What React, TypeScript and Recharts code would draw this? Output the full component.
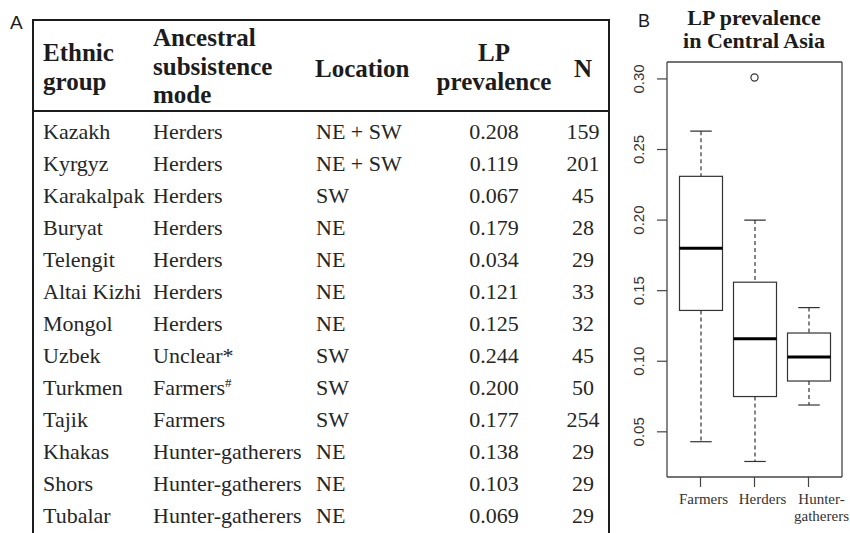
import React from "react";
import {
  ComposedChart,
  Bar,
  Scatter,
  XAxis,
  YAxis,
  CartesianGrid,
} from "recharts";

// --- panel A: table ---
const ethnicGroups = [
  "Kazakh", "Kyrgyz", "Karakalpak", "Buryat", "Telengit", "Altai Kizhi", "Mongol",
  "Uzbek", "Turkmen", "Tajik", "Khakas", "Shors", "Tubalar",
];
const subsistenceModes = [
  "Herders", "Herders", "Herders", "Herders", "Herders", "Herders", "Herders",
  "Unclear*", "Farmers", "Farmers", "Hunter-gatherers", "Hunter-gatherers", "Hunter-gatherers",
];
const subsistenceNotes = ["", "", "", "", "", "", "", "", "#", "", "", "", ""];
const locations = [
  "NE + SW", "NE + SW", "SW", "NE", "NE", "NE", "NE", "SW", "SW", "SW", "NE", "NE", "NE",
];
const lpPrevalence = [
  "0.208", "0.119", "0.067", "0.179", "0.034", "0.121", "0.125",
  "0.244", "0.200", "0.177", "0.138", "0.103", "0.069",
];
const sampleSizes = [159, 201, 45, 28, 29, 33, 32, 45, 50, 254, 29, 29, 29];

// --- panel B: boxplot ---
const groups = ["Farmers", "Herders", "Hunter-gatherers"];
const whiskerLow = [0.043, 0.029, 0.069];
const quartile1 = [0.136, 0.075, 0.086];
const medians = [0.18, 0.116, 0.103];
const quartile3 = [0.231, 0.156, 0.12];
const whiskerHigh = [0.263, 0.2, 0.138];
const outliers = [null, 0.301, null];
const yTicks = [0.05, 0.1, 0.15, 0.2, 0.25, 0.3];

const boxData = groups.map((g, i) => ({
  group: g,
  range: [whiskerLow[i], whiskerHigh[i]],
  q1: quartile1[i],
  median: medians[i],
  q3: quartile3[i],
  outlier: outliers[i],
}));

const SERIF = "'Liberation Serif', 'Times New Roman', serif";
const SANS = "'Liberation Sans', Arial, sans-serif";
const INK = "#1c1c1c";

const BoxShape = (props: any) => {
  const { x, y, width, height, payload } = props;
  const [lo, hi] = payload.range;
  const toY = (v: number) => y + ((hi - v) / (hi - lo)) * height;
  const cx = x + width / 2;
  const cap = width / 4;
  const yQ1 = toY(payload.q1);
  const yQ3 = toY(payload.q3);
  const yMed = toY(payload.median);
  const yLo = toY(lo);
  const yHi = toY(hi);
  return (
    <g stroke="#333" strokeWidth={1.2}>
      <line x1={cx} x2={cx} y1={yHi} y2={yQ3} strokeDasharray="4 3" />
      <line x1={cx} x2={cx} y1={yQ1} y2={yLo} strokeDasharray="4 3" />
      <line x1={cx - cap} x2={cx + cap} y1={yHi} y2={yHi} />
      <line x1={cx - cap} x2={cx + cap} y1={yLo} y2={yLo} />
      <rect x={x} y={yQ3} width={width} height={yQ1 - yQ3} fill="#fff" />
      <line x1={x} x2={x + width} y1={yMed} y2={yMed} stroke="#000" strokeWidth={3} />
    </g>
  );
};

const OutlierDot = (props: any) => {
  const { cx, cy, payload } = props;
  if (payload == null || payload.outlier == null) return <g />;
  return <circle cx={cx} cy={cy} r={3.6} fill="none" stroke="#333" strokeWidth={1.2} />;
};

const YTick = ({ x, y, payload }: any) => (
  <text
    transform={`translate(${x - 11},${y}) rotate(-90)`}
    textAnchor="middle"
    fontFamily={SANS}
    fontSize={15}
    fill="#333"
  >
    {Number(payload.value).toFixed(2)}
  </text>
);

// R placed the group names a little to the right of each tick
const labelShift = [3, 8, 13];

const XTick = ({ x, y, payload, index }: any) => {
  const label: string = payload.value;
  const cut = label.indexOf("-");
  const lines = cut >= 0 ? [label.slice(0, cut + 1), label.slice(cut + 1)] : [label];
  const lx = x + (labelShift[index] ?? 0);
  return (
    <text x={lx} y={y} textAnchor="middle" fontFamily={SERIF} fontSize={15} fill="#333">
      {lines.map((l, i) => (
        <tspan key={i} x={lx} dy={i === 0 ? 15 : 17}>
          {l}
        </tspan>
      ))}
    </text>
  );
};

const TablePanel = () => {
  const rowBase = (i: number) => 139 + i * 32;
  return (
    <svg width={620} height={533} style={{ position: "absolute", left: 0, top: 0 }}>
      <text x={10} y={29} fontFamily={SANS} fontSize={19} fill={INK}>A</text>
      <g stroke={INK} strokeWidth={2}>
        <line x1={33} x2={609} y1={20} y2={20} />
        <line x1={33} x2={33} y1={19} y2={533} />
        <line x1={609} x2={609} y1={19} y2={533} />
        <line x1={33} x2={609} y1={111} y2={111} />
      </g>
      <g fontFamily={SERIF} fontSize={25} fontWeight="bold" fill={INK}>
        <text x={43} y={61}>Ethnic</text>
        <text x={43} y={90}>group</text>
        <text x={153} y={46}>Ancestral</text>
        <text x={153} y={75}>subsistence</text>
        <text x={153} y={103}>mode</text>
        <text x={315} y={77}>Location</text>
        <text x={494} y={61} textAnchor="middle">LP</text>
        <text x={494} y={90} textAnchor="middle">prevalence</text>
        <text x={583} y={77} textAnchor="middle">N</text>
      </g>
      <g fontFamily={SERIF} fontSize={22} fill="#262626">
        {ethnicGroups.map((name, i) => (
          <g key={name}>
            <text x={43} y={rowBase(i)}>{name}</text>
            <text x={153} y={rowBase(i)}>
              {subsistenceModes[i]}
              {subsistenceNotes[i] && (
                <tspan dy={-8} fontSize={13}>{subsistenceNotes[i]}</tspan>
              )}
            </text>
            <text x={316} y={rowBase(i)}>{locations[i]}</text>
            <text x={494} y={rowBase(i)} textAnchor="middle">{lpPrevalence[i]}</text>
            <text x={583} y={rowBase(i)} textAnchor="middle">{sampleSizes[i]}</text>
          </g>
        ))}
      </g>
    </svg>
  );
};

export default function App() {
  return (
    <div
      style={{
        position: "absolute",
        left: 0,
        top: 0,
        width: 850,
        height: 533,
        overflow: "hidden",
        background: "#fff",
      }}
    >
      <TablePanel />
      <svg width={250} height={60} style={{ position: "absolute", left: 600, top: 0 }}>
        <text x={38} y={27} fontFamily={SANS} fontSize={18} fill={INK}>B</text>
        <g fontFamily={SERIF} fontSize={22} fontWeight="bold" fill={INK} textAnchor="middle">
          <text x={154} y={25}>LP prevalence</text>
          <text x={154} y={48}>in Central Asia</text>
        </g>
      </svg>
      <div style={{ position: "absolute", left: 600, top: 0 }}>
        <ComposedChart
          width={250}
          height={533}
          data={boxData}
          margin={{ top: 62, right: 8, bottom: 0, left: 0 }}
        >
          <CartesianGrid
            stroke="#444"
            strokeWidth={1.3}
            fill="none"
            horizontalCoordinatesGenerator={({ offset }: any) => [offset.top, offset.top + offset.height]}
            verticalCoordinatesGenerator={({ offset }: any) => [offset.left, offset.left + offset.width]}
          />
          <XAxis
            dataKey="group"
            type="category"
            padding={{ left: 6.5, right: 6.5 }}
            axisLine={false}
            tickSize={10}
            tickLine={{ stroke: "#444", strokeWidth: 1.2 }}
            tick={<XTick />}
            height={56}
            interval={0}
          />
          <YAxis
            type="number"
            domain={[0.018, 0.312]}
            ticks={yTicks}
            allowDataOverflow
            width={67}
            axisLine={false}
            tickSize={10}
            tickLine={{ stroke: "#444", strokeWidth: 1.2 }}
            tick={<YTick />}
          />
          <Bar dataKey="range" barSize={43} shape={<BoxShape />} isAnimationActive={false} />
          <Scatter dataKey="outlier" shape={<OutlierDot />} isAnimationActive={false} />
        </ComposedChart>
      </div>
    </div>
  );
}
